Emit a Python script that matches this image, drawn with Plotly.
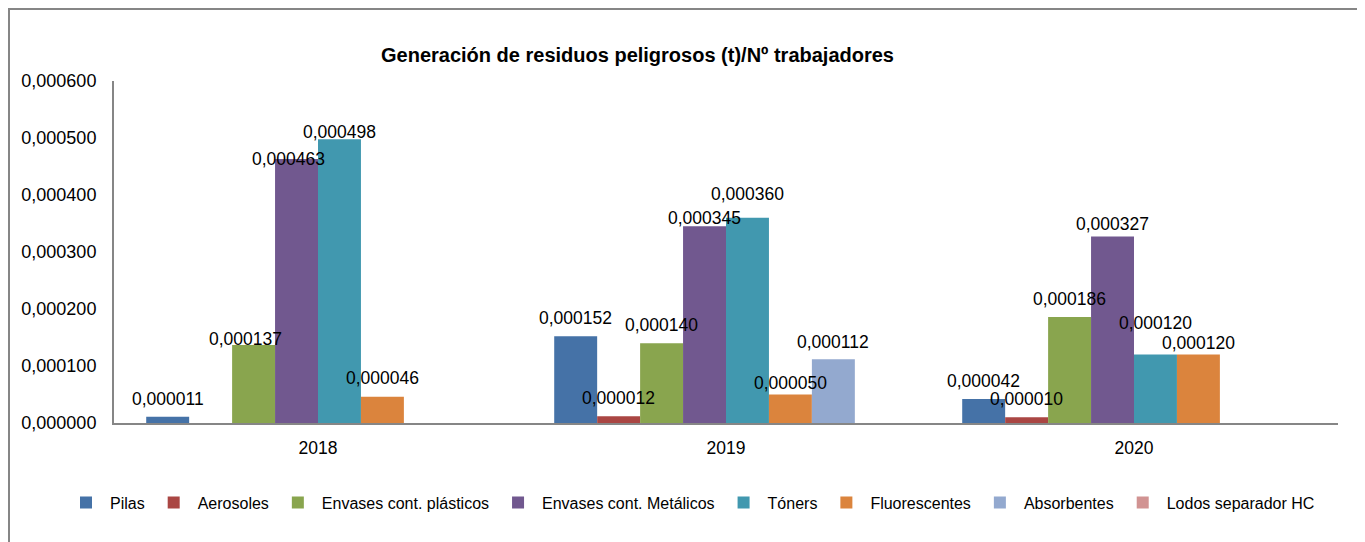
import plotly.graph_objects as go

years = ["2018", "2019", "2020"]
series_names = ["Pilas", "Aerosoles", "Envases cont. plásticos", "Envases cont. Metálicos",
                "Tóners", "Fluorescentes", "Absorbentes", "Lodos separador HC"]
pilas = [0.000011, 0.000152, 0.000042]
aerosoles = [None, 0.000012, 0.000010]
plasticos = [0.000137, 0.000140, 0.000186]
metalicos = [0.000463, 0.000345, 0.000327]
toners = [0.000498, 0.000360, 0.000120]
fluorescentes = [0.000046, 0.000050, 0.000120]
absorbentes = [None, 0.000112, None]
lodos = [None, None, None]
y_ticks = [0, 0.0001, 0.0002, 0.0003, 0.0004, 0.0005, 0.0006]

colors = ["#4572A7", "#AA4643", "#89A54E", "#71588F", "#4198AF", "#DB843D", "#93A9CF", "#D19392"]
# manual label nudges (pixels) as in the original chart: (dx, dy)
label_nudge = {
    (0, 2): (-8, -12), (0, 3): (-8, -18), (0, 4): (0, -11), (0, 5): (0, 1),
    (1, 3): (0, -10), (1, 4): (0, 6), (1, 5): (0, -6), (1, 6): (0, -1),
    (2, 3): (0, -5), (2, 4): (0, 14), (2, 5): (0, -6),
}

all_series = [pilas, aerosoles, plasticos, metalicos, toners, fluorescentes, absorbentes, lodos]
FONT = "Liberation Sans, Arial, sans-serif"
bargap = 1.5 / 9.5

# page offset compensation (browser body margin of 8px)
OFF = 8
W, H = 1365, 542
L, R = 114 - OFF, W - (1338 - OFF)
T, B = round(80.7 - OFF), round(H - (423.3 - OFF))
PW, PH = W - L - R, H - T - B

fig = go.Figure()
for name, vals, col in zip(series_names, all_series, colors):
    fig.add_trace(go.Bar(x=years, y=vals, name=name, marker=dict(color=col, line=dict(width=0))))

n = len(all_series)
w = (1 - bargap) / n
annotations = []
for j, vals in enumerate(all_series):
    for i, v in enumerate(vals):
        if v is None:
            continue
        dx, dy = label_nudge.get((i, j), (0, 0))
        annotations.append(dict(
            x=i + (j - (n - 1) / 2) * w, y=v, xref="x", yref="y",
            text=f"{v:.6f}".replace(".", ","), showarrow=False,
            yanchor="middle", xanchor="center", xshift=dx, yshift=18 + dy,
            font=dict(family=FONT, size=17.5, color="#000000")))

fig.update_layout(
    width=W, height=H,
    margin=dict(l=L, r=R, t=T, b=B, pad=0, autoexpand=False),
    paper_bgcolor="white", plot_bgcolor="white",
    barmode="group", bargap=bargap, bargroupgap=0,
    separators=",.",
    font=dict(family=FONT, size=17, color="#000000"),
    title=dict(text="<b>Generación de residuos peligrosos (t)/Nº trabajadores</b>",
               x=(637.5 - OFF) / W, xref="container", xanchor="center",
               y=1 - (55 - OFF) / H, yref="container", yanchor="middle",
               font=dict(family=FONT, size=20, color="#000000")),
    showlegend=True,
    legend=dict(orientation="h", x=(62 - OFF - L) / PW, xanchor="left",
                y=-(503 - 423.3) / PH, yanchor="middle", itemwidth=38,
                font=dict(family=FONT, size=16, color="#000000"), traceorder="normal"),
    annotations=annotations,
    shapes=[dict(type="rect", xref="paper", yref="paper",
                 x0=(1 - L) / PW, x1=(1358 - OFF - L) / PW,
                 y0=-(B + 20) / PH, y1=(PH + T - 1) / PH,
                 line=dict(color="#868686", width=2), fillcolor="rgba(0,0,0,0)", layer="below")],
)
fig.update_xaxes(type="category", showline=True, linecolor="#868686", linewidth=2,
                 showgrid=False, ticks="outside", ticklen=8, tickcolor="rgba(0,0,0,0)",
                 tickfont=dict(family=FONT, size=17.5), zeroline=False, automargin=False)
fig.update_yaxes(range=[0, 0.0006], tickvals=y_ticks, tickformat=".6f",
                 showline=True, linecolor="#868686", linewidth=2, showgrid=False,
                 ticks="outside", ticklen=12, tickcolor="rgba(0,0,0,0)",
                 tickfont=dict(family=FONT, size=18), zeroline=False, automargin=False)
fig.write_html("out.html")
